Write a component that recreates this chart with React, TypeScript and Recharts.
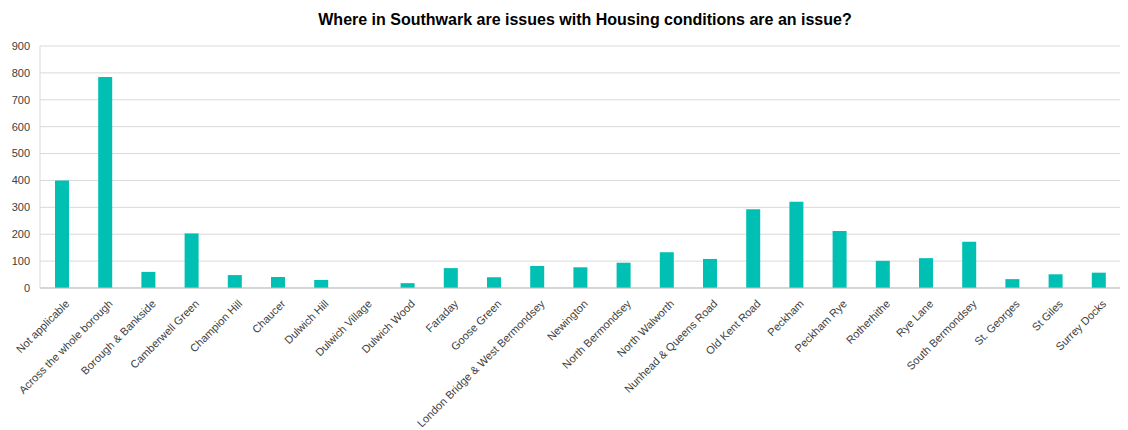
import { BarChart, Bar, XAxis, YAxis, CartesianGrid } from "recharts";

const areas = [
  "Not applicable",
  "Across the whole borough",
  "Borough & Bankside",
  "Camberwell Green",
  "Champion Hill",
  "Chaucer",
  "Dulwich Hill",
  "Dulwich Village",
  "Dulwich Wood",
  "Faraday",
  "Goose Green",
  "London Bridge & West Bermondsey",
  "Newington",
  "North Bermondsey",
  "North Walworth",
  "Nunhead & Queens Road",
  "Old Kent Road",
  "Peckham",
  "Peckham Rye",
  "Rotherhithe",
  "Rye Lane",
  "South Bermondsey",
  "St. Georges",
  "St Giles",
  "Surrey Docks",
];

const counts = [
  400, 785, 60, 203, 48, 41, 30, 0, 18, 74, 40, 82, 77, 94, 133, 108, 293, 321, 212, 101, 111, 172, 33, 51, 57,
];

const yTicks = [0, 100, 200, 300, 400, 500, 600, 700, 800, 900];

const data = areas.map((area, i) => ({ area, count: counts[i] }));

const font = "'Liberation Sans', Arial, sans-serif";

function AreaTick({ x, y, payload }: any) {
  return (
    <text
      x={x + 3}
      y={y + 3}
      transform={`rotate(-45, ${x + 3}, ${y + 3})`}
      textAnchor="end"
      dy="0.71em"
      fontSize={11}
      fontFamily={font}
      fill="#404040"
    >
      {payload.value}
    </text>
  );
}

export default function App() {
  return (
    <div style={{ position: "absolute", left: 0, top: 0, width: 1128, height: 430, background: "#fff" }}>
      <div
        style={{
          position: "absolute",
          top: 11,
          left: 42,
          width: 1086,
          textAlign: "center",
          fontFamily: font,
          fontWeight: "bold",
          fontSize: 16,
          color: "#000",
        }}
      >
        Where in Southwark are issues with Housing conditions are an issue?
      </div>
      <BarChart
        width={1128}
        height={430}
        data={data}
        margin={{ top: 46, right: 8, left: 0, bottom: 0 }}
      >
        <CartesianGrid vertical={false} stroke="#d9d9d9" />
        <XAxis
          dataKey="area"
          interval={0}
          height={142}
          tickLine={false}
          axisLine={{ stroke: "#bfbfbf" }}
          tick={<AreaTick />}
        />
        <YAxis
          width={40}
          domain={[0, 900]}
          ticks={yTicks}
          interval={0}
          tickLine={false}
          tickSize={0}
          tickMargin={10}
          axisLine={{ stroke: "#d9d9d9" }}
          tick={{ fontSize: 11, fontFamily: font, fill: "#404040" }}
        />
        <Bar dataKey="count" fill="#00bfb3" barSize={14} isAnimationActive={false} />
      </BarChart>
    </div>
  );
}
